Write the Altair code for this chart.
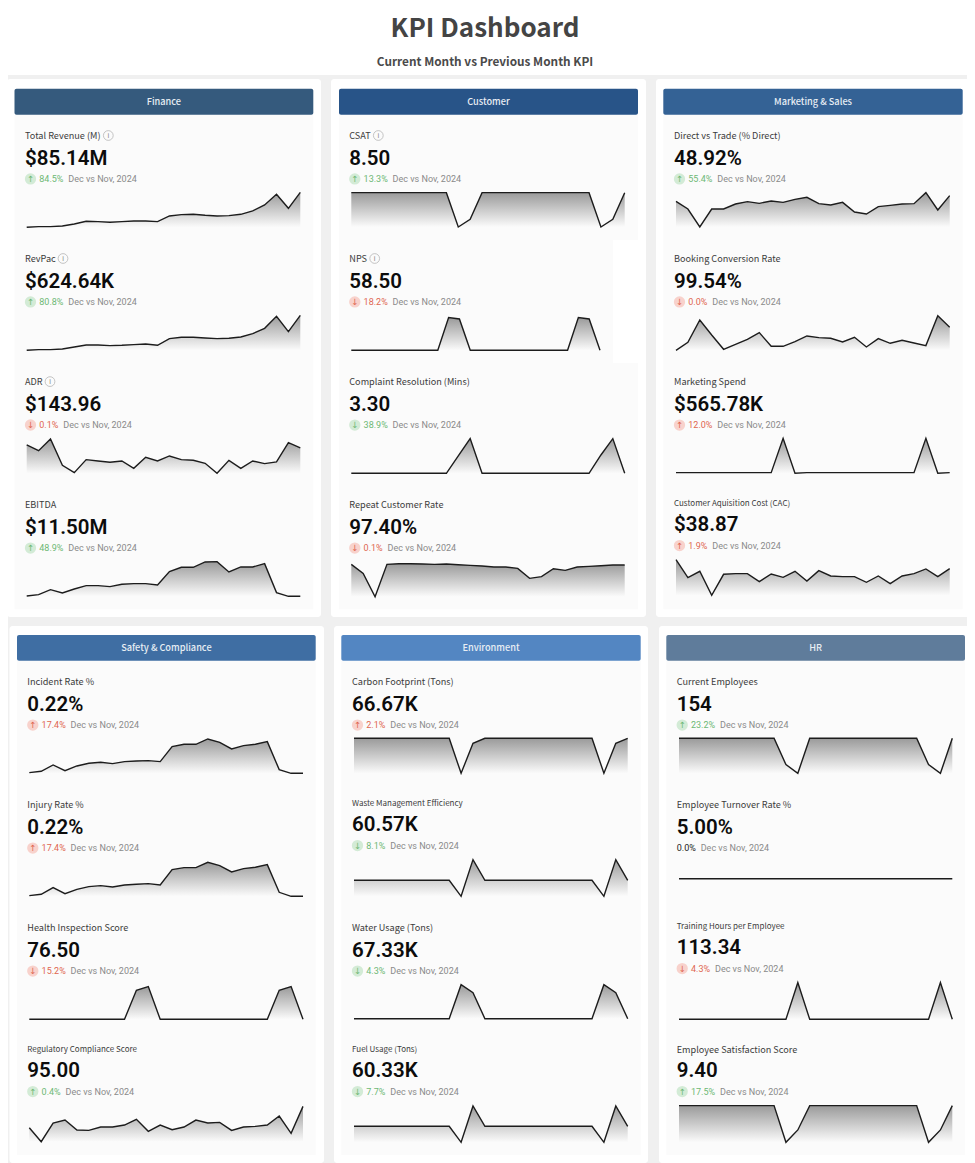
import altair as alt

W, H = 959, 1155
OX, OY = 8, 8

# ---- Values (index read from the sparklines) ----
TOTAL_REVENUE = [0,2,2,4,10,18,17,15,17,19,19,17,34,38,39,36,34,35,39,49,67,99,57,105]
REVPAC = [0,2,2,4,10,16,16,14,15,17,19,15,35,39,39,37,35,36,40,50,66,102,56,105]
ADR = [85,68,103,24,2,41,37,33,37,15,48,37,52,41,39,30,0,39,15,37,29,34,92,76]
EBITDA = [1,5,20,10,22,32,32,29,36,38,38,34,74,87,87,103,104,73,88,88,98,11,0,0]
CSAT = [103,103,103,103,103,103,103,103,103,0,23,103,103,103,103,103,103,103,103,103,103,0,23,103]
NPS = [0,0,0,0,0,0,0,0,0,98,94,0,0,0,0,0,0,0,0,0,0,98,94,0]
COMPLAINT = [0,0,0,0,0,0,0,0,0,52,104,0,0,0,0,0,0,0,0,0,0,55,104,0]
REPEAT = [97,70,0,97,99,99,98,97,98,96,94,92,89,89,85,55,60,84,79,89,91,93,95,95]
DIRECT = [77,54,0,54,54,69,76,71,78,74,83,89,70,66,74,45,39,61,65,69,70,103,51,94]
BOOKING = [0,24,91,46,3,18,33,53,12,12,26,43,38,36,25,39,10,35,21,30,22,14,104,69]
SPEND = [2,2,2,2,2,2,2,2,2,105,0,2,2,2,2,2,2,2,2,2,2,105,0,2]
CAC = [107,53,72,0,63,65,65,41,64,54,72,43,74,58,56,56,39,58,35,58,65,79,56,80]
INCIDENT = [2,6,25,8,22,30,33,29,35,37,38,35,80,87,87,103,93,73,83,87,95,11,0,0]
INJURY = [2,6,26,8,21,29,32,28,34,36,38,34,80,86,86,102,92,73,83,87,95,12,0,0]
HEALTH = [0,0,0,0,0,0,0,0,0,87,98,0,0,0,0,0,0,0,0,0,0,87,98,0]
REGULATORY = [42,0,56,65,35,34,44,44,50,67,31,50,36,44,65,56,58,34,44,46,50,77,25,106]
CARBON = [105,105,105,105,105,105,105,105,105,0,90,105,105,105,105,105,105,105,105,105,105,0,90,105]
WASTE = [48,48,48,48,48,48,48,48,48,0,110,48,48,48,48,48,48,48,48,48,48,0,110,48]
WATER = [0,0,0,0,0,0,0,0,0,102,78,0,0,0,0,0,0,0,0,0,0,102,78,0]
FUEL = [48,48,48,48,48,48,48,48,48,0,109,48,48,48,48,48,48,48,48,48,48,0,109,48]
EMPLOYEES = [105,105,105,105,105,105,105,105,105,26,0,105,105,105,105,105,105,105,105,105,105,26,0,105]
TURNOVER = [0]*24
TRAINING = [0,0,0,0,0,0,0,0,0,0,110,0,0,0,0,0,0,0,0,0,0,0,110,0]
SATISFACTION = [110,110,110,110,110,110,110,110,110,0,37,110,110,110,110,110,110,110,110,110,110,0,37,110]

# label, value, delta, direction, good?, series
FINANCE = [("Total Revenue (M)","$85.14M","84.5%","up",True,TOTAL_REVENUE),
           ("RevPac","$624.64K","80.8%","up",True,REVPAC),
           ("ADR","$143.96","0.1%","down",False,ADR),
           ("EBITDA","$11.50M","48.9%","up",True,EBITDA)]
CUSTOMER = [("CSAT","8.50","13.3%","up",True,CSAT),
            ("NPS","58.50","18.2%","down",False,NPS),
            ("Complaint Resolution (Mins)","3.30","38.9%","down",True,COMPLAINT),
            ("Repeat Customer Rate","97.40%","0.1%","down",False,REPEAT)]
MARKETING = [("Direct vs Trade (% Direct)","48.92%","55.4%","up",True,DIRECT),
             ("Booking Conversion Rate","99.54%","0.0%","down",False,BOOKING),
             ("Marketing Spend","$565.78K","12.0%","up",False,SPEND),
             ("Customer Aquisition Cost (CAC)","$38.87","1.9%","up",False,CAC)]
SAFETY = [("Incident Rate %","0.22%","17.4%","up",False,INCIDENT),
          ("Injury Rate %","0.22%","17.4%","up",False,INJURY),
          ("Health Inspection Score","76.50","15.2%","down",False,HEALTH),
          ("Regulatory Compliance Score","95.00","0.4%","up",True,REGULATORY)]
ENVIRONMENT = [("Carbon Footprint (Tons)","66.67K","2.1%","up",False,CARBON),
               ("Waste Management Efficiency","60.57K","8.1%","down",True,WASTE),
               ("Water Usage (Tons)","67.33K","4.3%","down",True,WATER),
               ("Fuel Usage (Tons)","60.33K","7.7%","down",True,FUEL)]
HR = [("Current Employees","154","23.2%","up",True,EMPLOYEES),
      ("Employee Turnover Rate %","5.00%","0.0%","none",True,TURNOVER),
      ("Training Hours per Employee","113.34","4.3%","down",False,TRAINING),
      ("Employee Satisfaction Score","9.40","17.5%","up",True,SATISFACTION)]

PANEL_NAMES = ["Finance","Customer","Marketing & Sales","Safety & Compliance","Environment","HR"]
PANEL_KPIS = [FINANCE,CUSTOMER,MARKETING,SAFETY,ENVIRONMENT,HR]
HEAD_COLORS = ["#355a7d","#285488","#346295","#3f6ea3","#5386c2","#5f7c9b"]
CARDS = [(7,321,79,617),(331,646,79,617),(656,971,79,617),(9.5,324,626,1163),(334,648,626,1163),(659,973,626,1163)]
HEADS = [(14.5,313.3,88.7,114.7),(339,638,88.7,114.7),(663.3,962.7,88.7,114.7),
         (17,315.7,635,660.7),(341.3,640.7,635,660.7),(666.3,965,635,660.7)]
INNER_BOTTOM = [609.3,609.3,609.3,1155,1155,1155]
TEXT_X = [25,349.3,674,27.3,352,676.7]
SPARK_X = [(26.7,300.3),(351.3,624.7),(676,949.7),(29.3,303),(354,627.7),(679,952.3)]
BASES = [[227.3,350.3,473.3,596.3],[227,350.3,473.3,596.7],[227,350.3,473.3,595.3],
         [773.3,896.3,1019.3,1141.7],[773.3,896.3,1018.7,1142.3],[773.3,878.7,1019.3,1142.3]]
LABEL_Y = [[135.5,258.5,381.6,504.7],[135.5,258.5,381.7,504.7],[135.5,258.5,381.7,504],
           [681.7,804.7,927.7,1050],[681.7,804,927.7,1050],[681.7,804.7,927,1050]]
SMALL_LABELS = {"Customer Aquisition Cost (CAC)","Regulatory Compliance Score","Waste Management Efficiency",
                "Fuel Usage (Tons)","Training Hours per Employee"}
TIGHT = SMALL_LABELS | {"Employee Satisfaction Score"}
INFO_X = {"Total Revenue (M)":108.3,"RevPac":63,"ADR":50,"CSAT":378.3,"NPS":374.7}

LABEL_FONT = "Noto Sans CJK SC"
NUM_FONT = "Roboto"
GREEN, GREEN_BG = "#6db874", "#d3ebd6"
RED, RED_BG = "#df6650", "#f8d2cc"
GRAD = alt.Gradient(gradient="linear", x1=1, x2=1, y1=0, y2=1,
                    stops=[alt.GradientStop(color="#9a9a9a", offset=0),
                           alt.GradientStop(color="#fbfbfb", offset=1)])


def X(v):
    return alt.value(v - OX)


def Y(v):
    return alt.value(v - OY)


def box(x0, x1, y0, y1, color, radius=0):
    return alt.Chart().mark_rect(color=color, cornerRadius=radius).encode(x=X(x0), x2=X(x1), y=Y(y0), y2=Y(y1))


def text(t, x, y, size, color, font=LABEL_FONT, weight="normal", align="left"):
    return alt.Chart().mark_text(text=t, font=font, fontSize=size, fontWeight=weight, color=color,
                                 align=align, baseline="middle").encode(x=X(x), y=Y(y))


def spark(values, x0, x1, base):
    rows = [{"i": i, "v": v} for i, v in enumerate(values)]
    data = alt.Data(values=rows)
    xe = alt.X("i:Q", axis=None, scale=alt.Scale(domain=[0, 23], range=[x0 - OX, x1 - OX], nice=False, zero=False))
    ye = alt.Y("v:Q", axis=None, scale=alt.Scale(domain=[0, 120], range=[base - OY, base - OY - 40], nice=False))
    return [alt.Chart(data).mark_area(color=GRAD, interpolate="linear").encode(x=xe, y=ye),
            alt.Chart(data).mark_line(color="#1c1c1c", strokeWidth=1.4, interpolate="linear").encode(x=xe, y=ye)]


layers = [box(0, W + OX, 75, H + OY, "#f0f0f0"),
          text("KPI Dashboard", 485, 29, 26, "#444444", weight=600, align="center"),
          text("Current Month vs Previous Month KPI", 485, 62, 11.8, "#4a4a4a", weight=600, align="center")]

for p in range(6):
    c, h, tx = CARDS[p], HEADS[p], TEXT_X[p]
    layers += [box(c[0], c[1], c[2], c[3], "#ffffff", 3),
               box(h[0], h[1], h[3], INNER_BOTTOM[p], "#fbfbfb"),
               box(h[0], h[1], h[2], h[3], HEAD_COLORS[p], 2),
               text(PANEL_NAMES[p], (h[0] + h[1]) / 2, (h[2] + h[3]) / 2, 9.2, "#e8eef4", weight=500, align="center")]
    if p == 1:
        layers.append(box(613, 638, 240, 363, "#ffffff"))
    for k, (label, value, delta, direction, good, series) in enumerate(PANEL_KPIS[p]):
        ly, base = LABEL_Y[p][k], BASES[p][k]
        vy = ly + (21.4 if label in TIGHT else 23.2)
        dy = ly + (41.6 if label in TIGHT else 43.4)
        layers.append(text(label, tx, ly, 8 if label in SMALL_LABELS else 9.15, "#3c3c3c"))
        if label in INFO_X:
            ix = INFO_X[label]
            layers.append(alt.Chart().mark_point(shape="circle", filled=False, size=95, color="#999999",
                                                 strokeWidth=0.8).encode(x=X(ix), y=Y(ly)))
            layers.append(text("i", ix, ly, 7, "#888888", font=NUM_FONT, align="center"))
        layers.append(text(value, tx, vy, 20.5, "#0c0c0c", font=NUM_FONT, weight=600))
        if direction == "none":
            layers.append(text(delta, tx, dy, 9, "#222222", font=NUM_FONT))
            date_x = tx + 24
        else:
            fg, bg = (GREEN, GREEN_BG) if good else (RED, RED_BG)
            layers.append(alt.Chart().mark_circle(size=128, color=bg, opacity=1).encode(x=X(tx + 5.5), y=Y(dy)))
            layers.append(text("\u2191" if direction == "up" else "\u2193", tx + 5.5, dy, 8.5, fg,
                               font="DejaVu Sans", align="center"))
            layers.append(text(delta, tx + 14.3, dy, 9, fg, font=NUM_FONT))
            date_x = tx + (43.3 if len(delta) == 5 else 38.3)
        layers.append(text("Dec vs Nov, 2024", date_x, dy, 9, "#8a8a8a", font=NUM_FONT))
        x0, x1 = SPARK_X[p]
        if label == "NPS":
            x1 = 325 + 825 / 3
        layers += spark(series, x0, x1, base)

chart = (alt.layer(*layers)
         .resolve_scale(x="independent", y="independent")
         .properties(width=W, height=H, padding=0, background="#ffffff",
                     autosize=alt.AutoSizeParams(type="none", contains="content"))
         .configure_view(strokeWidth=0))

chart.save("out.html", embed_options={"renderer": "svg", "actions": False})
